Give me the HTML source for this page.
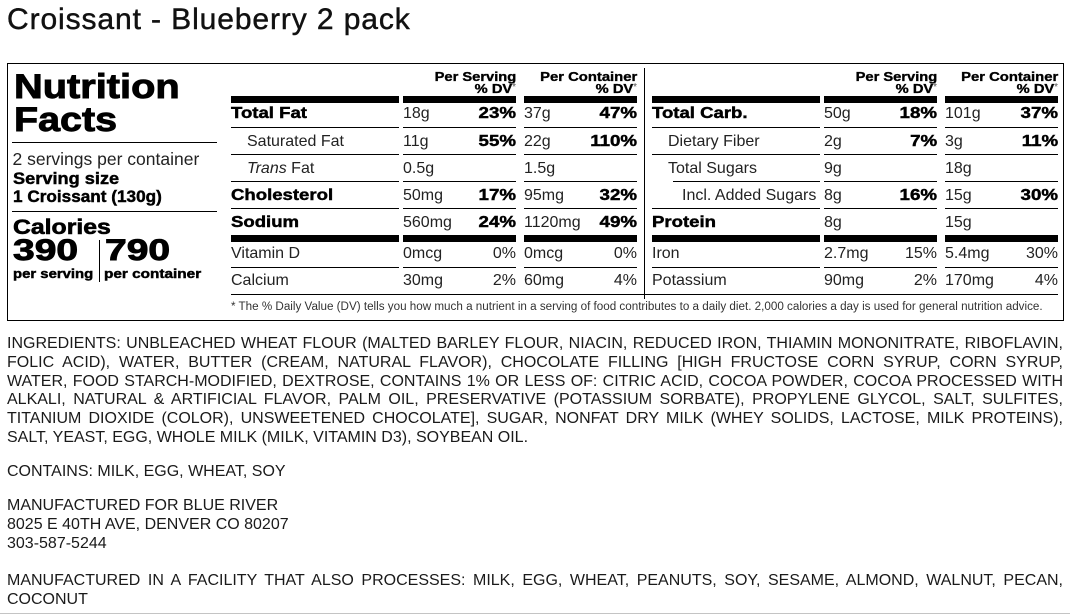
<!DOCTYPE html>
<html><head><meta charset="utf-8"><style>
body{margin:0;width:1070px;height:615px;position:relative;overflow:hidden;background:#fff;font-family:"Liberation Sans",Arial,sans-serif;color:#222}
.a{position:absolute;white-space:nowrap;line-height:1}
.t{font-size:16px;color:#222}
.b{font-weight:bold;color:#000;-webkit-text-stroke:0.45px #000}
.x{display:inline-block;transform:scaleX(1.16);transform-origin:left center}
.xr{display:inline-block;transform:scaleX(1.17);transform-origin:right center}
.ln{position:absolute;background:#000;height:1px}
.tk{position:absolute;background:#000;height:7px}
.r{text-align:right}
.h{font-size:13px;font-weight:bold;color:#000;-webkit-text-stroke:0.35px #000}
.ast{font-size:10px;font-weight:normal;color:#555;-webkit-text-stroke:0;vertical-align:3px}
.ing{position:absolute;left:7px;width:1056px;font-size:16px;line-height:19px;color:#1a1a1a;text-align:justify;text-align-last:justify;white-space:normal}
.ing.l{text-align-last:left}
</style></head><body>

<div class="a" style="left:7px;top:4.6px;font-size:30px;letter-spacing:0.9px;color:#111;-webkit-text-stroke:0.45px #111">Croissant - Blueberry 2 pack</div>

<!-- box -->
<div style="position:absolute;left:7px;top:63px;width:1055px;height:256px;border:1px solid #000"></div>

<!-- left panel -->
<div class="a b" style="left:14px;top:69.5px;font-size:34px;-webkit-text-stroke:0.9px #000"><span class="x" style="transform:scaleX(1.17)">Nutrition</span></div>
<div class="a b" style="left:14px;top:102.9px;font-size:34px;-webkit-text-stroke:0.9px #000"><span class="x" style="transform:scaleX(1.16)">Facts</span></div>
<div class="ln" style="left:12px;top:142px;width:205px"></div>
<div class="a" style="left:12.5px;top:150.7px;font-size:17.5px;color:#222">2 servings per container</div>
<div class="a b" style="left:12.5px;top:169.6px;font-size:17px"><span class="x" style="transform:scaleX(1.07)">Serving size</span></div>
<div class="a b" style="left:12.5px;top:188.3px;font-size:17px"><span class="x" style="transform:scaleX(1.01)">1 Croissant (130g)</span></div>
<div class="ln" style="left:12px;top:211px;width:205px"></div>
<div class="a b" style="left:12.5px;top:216.5px;font-size:21px;-webkit-text-stroke:0.6px #000"><span class="x" style="transform:scaleX(1.18)">Calories</span></div>
<div class="a b" style="left:13px;top:236.3px;font-size:30px;-webkit-text-stroke:0.9px #000"><span class="x" style="transform:scaleX(1.3)">390</span></div>
<div class="a b" style="left:104.5px;top:236.3px;font-size:30px;-webkit-text-stroke:0.9px #000"><span class="x" style="transform:scaleX(1.3)">790</span></div>
<div style="position:absolute;left:99px;top:240px;width:1px;height:42px;background:#000"></div>
<div class="a b" style="left:12.5px;top:267.3px;font-size:13px"><span class="x" style="transform:scaleX(1.145)">per serving</span></div>
<div class="a b" style="left:104px;top:267.3px;font-size:13px"><span class="x" style="transform:scaleX(1.18)">per container</span></div>

<!-- vertical divider -->
<div style="position:absolute;left:644px;top:68px;width:1px;height:231px;background:#000"></div>

<!-- headers -->
<div class="a h r" style="left:403px;width:113px;top:69.5px"><span class="xr" style="transform:scaleX(1.13)">Per Serving</span></div>
<div class="a h r" style="left:403px;width:113px;top:82px"><span class="xr" style="transform:scaleX(1.13)">% DV</span><span class="ast">*</span></div>
<div class="a h r" style="left:524px;width:113px;top:69.5px"><span class="xr" style="transform:scaleX(1.14)">Per Container</span></div>
<div class="a h r" style="left:524px;width:113px;top:82px"><span class="xr" style="transform:scaleX(1.13)">% DV</span><span class="ast">*</span></div>
<div class="a h r" style="left:824px;width:113px;top:69.5px"><span class="xr" style="transform:scaleX(1.13)">Per Serving</span></div>
<div class="a h r" style="left:824px;width:113px;top:82px"><span class="xr" style="transform:scaleX(1.13)">% DV</span><span class="ast">*</span></div>
<div class="a h r" style="left:945px;width:113px;top:69.5px"><span class="xr" style="transform:scaleX(1.14)">Per Container</span></div>
<div class="a h r" style="left:945px;width:113px;top:82px"><span class="xr" style="transform:scaleX(1.13)">% DV</span><span class="ast">*</span></div>

<!-- thick bars -->
<div class="tk" style="left:231px;top:96px;width:168px"></div>
<div class="tk" style="left:403px;top:96px;width:113px"></div>
<div class="tk" style="left:524px;top:96px;width:113px"></div>
<div class="tk" style="left:652px;top:96px;width:168px"></div>
<div class="tk" style="left:824px;top:96px;width:113px"></div>
<div class="tk" style="left:945px;top:96px;width:113px"></div>
<div class="tk" style="left:231px;top:235px;width:168px"></div>
<div class="tk" style="left:403px;top:235px;width:113px"></div>
<div class="tk" style="left:524px;top:235px;width:113px"></div>
<div class="tk" style="left:652px;top:235px;width:168px"></div>
<div class="tk" style="left:824px;top:235px;width:113px"></div>
<div class="tk" style="left:945px;top:235px;width:113px"></div>

<!-- thin row lines -->
<div class="ln" style="left:231px;top:127px;width:168px"></div><div class="ln" style="left:403px;top:127px;width:113px"></div><div class="ln" style="left:524px;top:127px;width:113px"></div>
<div class="ln" style="left:231px;top:154px;width:168px"></div><div class="ln" style="left:403px;top:154px;width:113px"></div><div class="ln" style="left:524px;top:154px;width:113px"></div>
<div class="ln" style="left:231px;top:181px;width:168px"></div><div class="ln" style="left:403px;top:181px;width:113px"></div><div class="ln" style="left:524px;top:181px;width:113px"></div>
<div class="ln" style="left:231px;top:208px;width:168px"></div><div class="ln" style="left:403px;top:208px;width:113px"></div><div class="ln" style="left:524px;top:208px;width:113px"></div>
<div class="ln" style="left:231px;top:267px;width:168px"></div><div class="ln" style="left:403px;top:267px;width:113px"></div><div class="ln" style="left:524px;top:267px;width:113px"></div>

<div class="ln" style="left:652px;top:127px;width:168px"></div><div class="ln" style="left:824px;top:127px;width:113px"></div><div class="ln" style="left:945px;top:127px;width:113px"></div>
<div class="ln" style="left:652px;top:154px;width:168px"></div><div class="ln" style="left:824px;top:154px;width:113px"></div><div class="ln" style="left:945px;top:154px;width:113px"></div>
<div class="ln" style="left:673px;top:181px;width:147px"></div><div class="ln" style="left:824px;top:181px;width:113px"></div><div class="ln" style="left:945px;top:181px;width:113px"></div>
<div class="ln" style="left:652px;top:208px;width:168px"></div><div class="ln" style="left:824px;top:208px;width:113px"></div><div class="ln" style="left:945px;top:208px;width:113px"></div>
<div class="ln" style="left:652px;top:267px;width:168px"></div><div class="ln" style="left:824px;top:267px;width:113px"></div><div class="ln" style="left:945px;top:267px;width:113px"></div>

<div class="ln" style="left:231px;top:294px;width:827px"></div>

<!-- TABLE 1 -->
<div class="a t b" style="left:231px;top:106px"><span class="x">Total Fat</span></div>
<div class="a t" style="left:403px;top:106px">18g</div>
<div class="a t b r" style="left:403px;width:113px;top:106px"><span class="xr">23%</span></div>
<div class="a t" style="left:524px;top:106px">37g</div>
<div class="a t b r" style="left:524px;width:113px;top:106px"><span class="xr">47%</span></div>

<div class="a t" style="left:247px;top:133.8px">Saturated Fat</div>
<div class="a t" style="left:403px;top:133.8px">11g</div>
<div class="a t b r" style="left:403px;width:113px;top:133.8px"><span class="xr">55%</span></div>
<div class="a t" style="left:524px;top:133.8px">22g</div>
<div class="a t b r" style="left:524px;width:113px;top:133.8px"><span class="xr">110%</span></div>

<div class="a t" style="left:247px;top:160.5px"><i>Trans</i> Fat</div>
<div class="a t" style="left:403px;top:160.5px">0.5g</div>
<div class="a t" style="left:524px;top:160.5px">1.5g</div>

<div class="a t b" style="left:231px;top:188px"><span class="x">Cholesterol</span></div>
<div class="a t" style="left:403px;top:188px">50mg</div>
<div class="a t b r" style="left:403px;width:113px;top:188px"><span class="xr">17%</span></div>
<div class="a t" style="left:524px;top:188px">95mg</div>
<div class="a t b r" style="left:524px;width:113px;top:188px"><span class="xr">32%</span></div>

<div class="a t b" style="left:231px;top:214.8px"><span class="x">Sodium</span></div>
<div class="a t" style="left:403px;top:214.8px">560mg</div>
<div class="a t b r" style="left:403px;width:113px;top:214.8px"><span class="xr">24%</span></div>
<div class="a t" style="left:524px;top:214.8px">1120mg</div>
<div class="a t b r" style="left:524px;width:113px;top:214.8px"><span class="xr">49%</span></div>

<div class="a t" style="left:231px;top:246.2px">Vitamin D</div>
<div class="a t" style="left:403px;top:246.2px">0mcg</div>
<div class="a t r" style="left:403px;width:113px;top:246.2px">0%</div>
<div class="a t" style="left:524px;top:246.2px">0mcg</div>
<div class="a t r" style="left:524px;width:113px;top:246.2px">0%</div>

<div class="a t" style="left:231px;top:272.9px">Calcium</div>
<div class="a t" style="left:403px;top:272.9px">30mg</div>
<div class="a t r" style="left:403px;width:113px;top:272.9px">2%</div>
<div class="a t" style="left:524px;top:272.9px">60mg</div>
<div class="a t r" style="left:524px;width:113px;top:272.9px">4%</div>

<!-- TABLE 2 -->
<div class="a t b" style="left:652px;top:106px"><span class="x">Total Carb.</span></div>
<div class="a t" style="left:824px;top:106px">50g</div>
<div class="a t b r" style="left:824px;width:113px;top:106px"><span class="xr">18%</span></div>
<div class="a t" style="left:945px;top:106px">101g</div>
<div class="a t b r" style="left:945px;width:113px;top:106px"><span class="xr">37%</span></div>

<div class="a t" style="left:668px;top:133.8px">Dietary Fiber</div>
<div class="a t" style="left:824px;top:133.8px">2g</div>
<div class="a t b r" style="left:824px;width:113px;top:133.8px"><span class="xr">7%</span></div>
<div class="a t" style="left:945px;top:133.8px">3g</div>
<div class="a t b r" style="left:945px;width:113px;top:133.8px"><span class="xr">11%</span></div>

<div class="a t" style="left:668px;top:160.5px">Total Sugars</div>
<div class="a t" style="left:824px;top:160.5px">9g</div>
<div class="a t" style="left:945px;top:160.5px">18g</div>

<div class="a t" style="left:682px;top:188px">Incl. Added Sugars</div>
<div class="a t" style="left:824px;top:188px">8g</div>
<div class="a t b r" style="left:824px;width:113px;top:188px"><span class="xr">16%</span></div>
<div class="a t" style="left:945px;top:188px">15g</div>
<div class="a t b r" style="left:945px;width:113px;top:188px"><span class="xr">30%</span></div>

<div class="a t b" style="left:652px;top:214.8px"><span class="x">Protein</span></div>
<div class="a t" style="left:824px;top:214.8px">8g</div>
<div class="a t" style="left:945px;top:214.8px">15g</div>

<div class="a t" style="left:652px;top:246.2px">Iron</div>
<div class="a t" style="left:824px;top:246.2px">2.7mg</div>
<div class="a t r" style="left:824px;width:113px;top:246.2px">15%</div>
<div class="a t" style="left:945px;top:246.2px">5.4mg</div>
<div class="a t r" style="left:945px;width:113px;top:246.2px">30%</div>

<div class="a t" style="left:652px;top:272.9px">Potassium</div>
<div class="a t" style="left:824px;top:272.9px">90mg</div>
<div class="a t r" style="left:824px;width:113px;top:272.9px">2%</div>
<div class="a t" style="left:945px;top:272.9px">170mg</div>
<div class="a t r" style="left:945px;width:113px;top:272.9px">4%</div>

<!-- footnote -->
<div class="a" style="left:231px;top:301px;font-size:11.65px;color:#333">* The % Daily Value (DV) tells you how much a nutrient in a serving of food contributes to a daily diet. 2,000 calories a day is used for general nutrition advice.</div>

<!-- ingredients -->
<div class="ing" style="top:333.7px">INGREDIENTS: UNBLEACHED WHEAT FLOUR (MALTED BARLEY FLOUR, NIACIN, REDUCED IRON, THIAMIN MONONITRATE, RIBOFLAVIN,</div>
<div class="ing" style="top:352.6px">FOLIC ACID), WATER, BUTTER (CREAM, NATURAL FLAVOR), CHOCOLATE FILLING [HIGH FRUCTOSE CORN SYRUP, CORN SYRUP,</div>
<div class="ing" style="top:371.5px">WATER, FOOD STARCH-MODIFIED, DEXTROSE, CONTAINS 1% OR LESS OF: CITRIC ACID, COCOA POWDER, COCOA PROCESSED WITH</div>
<div class="ing" style="top:390.4px">ALKALI, NATURAL &amp; ARTIFICIAL FLAVOR, PALM OIL, PRESERVATIVE (POTASSIUM SORBATE), PROPYLENE GLYCOL, SALT, SULFITES,</div>
<div class="ing" style="top:409.3px">TITANIUM DIOXIDE (COLOR), UNSWEETENED CHOCOLATE], SUGAR, NONFAT DRY MILK (WHEY SOLIDS, LACTOSE, MILK PROTEINS),</div>
<div class="ing l" style="top:428.2px">SALT, YEAST, EGG, WHOLE MILK (MILK, VITAMIN D3), SOYBEAN OIL.</div>

<div class="ing l" style="top:462.2px">CONTAINS: MILK, EGG, WHEAT, SOY</div>

<div class="ing l" style="top:496px">MANUFACTURED FOR BLUE RIVER</div>
<div class="ing l" style="top:515px">8025 E 40TH AVE, DENVER CO 80207</div>
<div class="ing l" style="top:534px">303-587-5244</div>

<div class="ing" style="top:570.7px">MANUFACTURED IN A FACILITY THAT ALSO PROCESSES: MILK, EGG, WHEAT, PEANUTS, SOY, SESAME, ALMOND, WALNUT, PECAN,</div>
<div class="ing l" style="top:589.7px">COCONUT</div>

<div style="position:absolute;left:0;top:613px;width:1070px;height:1px;background:#c4c4c4"></div>
</body></html>
